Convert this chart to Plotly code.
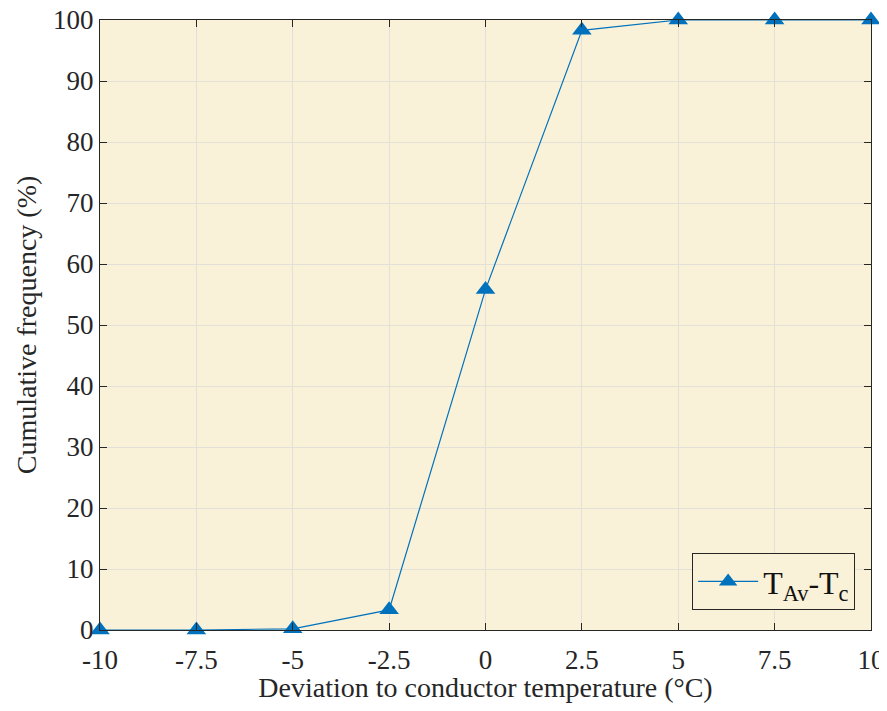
import plotly.graph_objects as go

x_vals = [-10, -7.5, -5, -2.5, 0, 2.5, 5, 7.5, 10]
y_vals = [0, 0, 0.2, 3.3, 55.8, 98.3, 100, 100, 100]
x_ticks = [-10, -7.5, -5, -2.5, 0, 2.5, 5, 7.5, 10]
x_tick_text = ["-10", "-7.5", "-5", "-2.5", "0", "2.5", "5", "7.5", "10"]
y_ticks = [0, 10, 20, 30, 40, 50, 60, 70, 80, 90, 100]
series_name = "T<sub>Av</sub>-T<sub>c</sub>"

FONT = "Liberation Serif"
fig = go.Figure()
fig.add_trace(go.Scatter(
    x=x_vals, y=y_vals, mode="lines+markers", name=series_name,
    line=dict(color="#0072BD", width=1.2),
    marker=dict(symbol="triangle-up", size=17, color="#0072BD"),
    cliponaxis=False,
))
axis_common = dict(
    showline=True, linecolor="#262626", linewidth=1, mirror="ticks",
    ticks="inside", ticklen=7, tickcolor="#262626",
    showgrid=True, gridcolor="#E2E0D8", gridwidth=1, zeroline=False,
    tickfont=dict(family=FONT, size=27, color="#262626"),
    automargin=False, ticklabeloverflow="allow",
)
fig.update_xaxes(range=[-10, 10], tickvals=x_ticks, ticktext=x_tick_text,
                 ticklabelstandoff=6,
                 title=dict(text="Deviation to conductor temperature (°C)",
                            font=dict(family=FONT, size=28, color="#262626"), standoff=6),
                 **axis_common)
fig.update_yaxes(range=[0, 100], tickvals=y_ticks,
                 title=dict(text="Cumulative frequency (%)",
                            font=dict(family=FONT, size=28, color="#262626"), standoff=8),
                 **axis_common)
fig.update_layout(
    width=879, height=695,
    margin=dict(l=92, r=16, t=12, b=73),
    plot_bgcolor="rgb(249,241,216)", paper_bgcolor="white",
    showlegend=True,
    legend=dict(x=0.768, y=0.126, xanchor="left", yanchor="top",
                bgcolor="rgb(249,241,216)", bordercolor="#262626", borderwidth=1,
                font=dict(family=FONT, size=32, color="#111111"),
                itemwidth=60),
)
fig.write_html("out.html")
